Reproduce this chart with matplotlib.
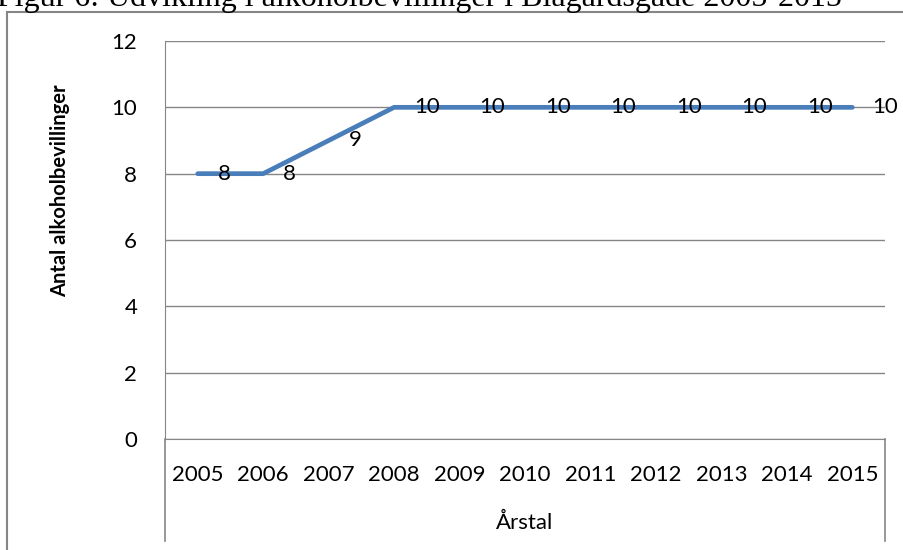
import matplotlib.pyplot as plt
from matplotlib.lines import Line2D
from matplotlib.patches import Rectangle

years = ["2005", "2006", "2007", "2008", "2009", "2010", "2011", "2012", "2013", "2014", "2015"]
bevillinger = [8, 8, 9, 10, 10, 10, 10, 10, 10, 10, 10]
y_ticks = [0, 2, 4, 6, 8, 10, 12]

W, H = 904, 550
plt.rcParams['font.family'] = ['Lato', 'DejaVu Sans']
fig = plt.figure(figsize=(W / 100, H / 100), dpi=100, facecolor='white')

grey = '#868686'

# outer chart frame (runs off the image on right/bottom)
fig.patches.append(Rectangle((7 / W, -0.1), 1.2, 1 - 12 / H + 0.1, transform=fig.transFigure,
                             facecolor='none', edgecolor=grey, lw=1.5))

# title, clipped at the top
fig.text(-3 / W, 1 - 6 / H, "Figur 6: Udvikling i alkoholbevillinger i Blågårdsgade 2005-2015",
         family='Liberation Serif', fontsize=23, va='baseline', ha='left')

left, right, top, bottom = 165, 885, 41, 439
ax = fig.add_axes([left / W, 1 - bottom / H, (right - left) / W, (bottom - top) / H])
x = list(range(len(years)))
ax.plot(x, bevillinger, color='#4A7EBB', lw=3.4, solid_capstyle='round', zorder=3)
for xi, v in zip(x, bevillinger):
    ax.annotate(str(v), (xi, v), xytext=(20, 0), textcoords='offset pixels',
                ha='left', va='center', fontsize=16, color='black', zorder=4)

ax.set_xlim(-0.5, len(years) - 0.5)
ax.set_ylim(0, 12)
ax.set_yticks(y_ticks)
ax.yaxis.grid(True, color=grey, lw=1)
ax.set_axisbelow(True)
ax.tick_params(axis='y', length=0, pad=20, labelsize=16)
ax.set_xticks(x)
ax.set_xticklabels(years)
ax.tick_params(axis='x', length=0, pad=19, labelsize=16)
for s in ['top', 'right']:
    ax.spines[s].set_visible(False)
ax.spines['left'].set_color(grey)
ax.spines['bottom'].set_color(grey)

# category table lines below the axis
for xp in (left, right):
    fig.add_artist(Line2D([xp / W, xp / W], [1 - bottom / H, 1 - 541 / H], color=grey, lw=1.2))

fig.text(60 / W, 1 - 191 / H, "Antal alkoholbevillinger", rotation=90, fontsize=14.5,
         fontweight='bold', ha='center', va='center')
fig.text(525 / W, 1 - 523 / H, "Årstal", fontsize=16, ha='center', va='center')

fig.savefig('out.png', dpi=100)
